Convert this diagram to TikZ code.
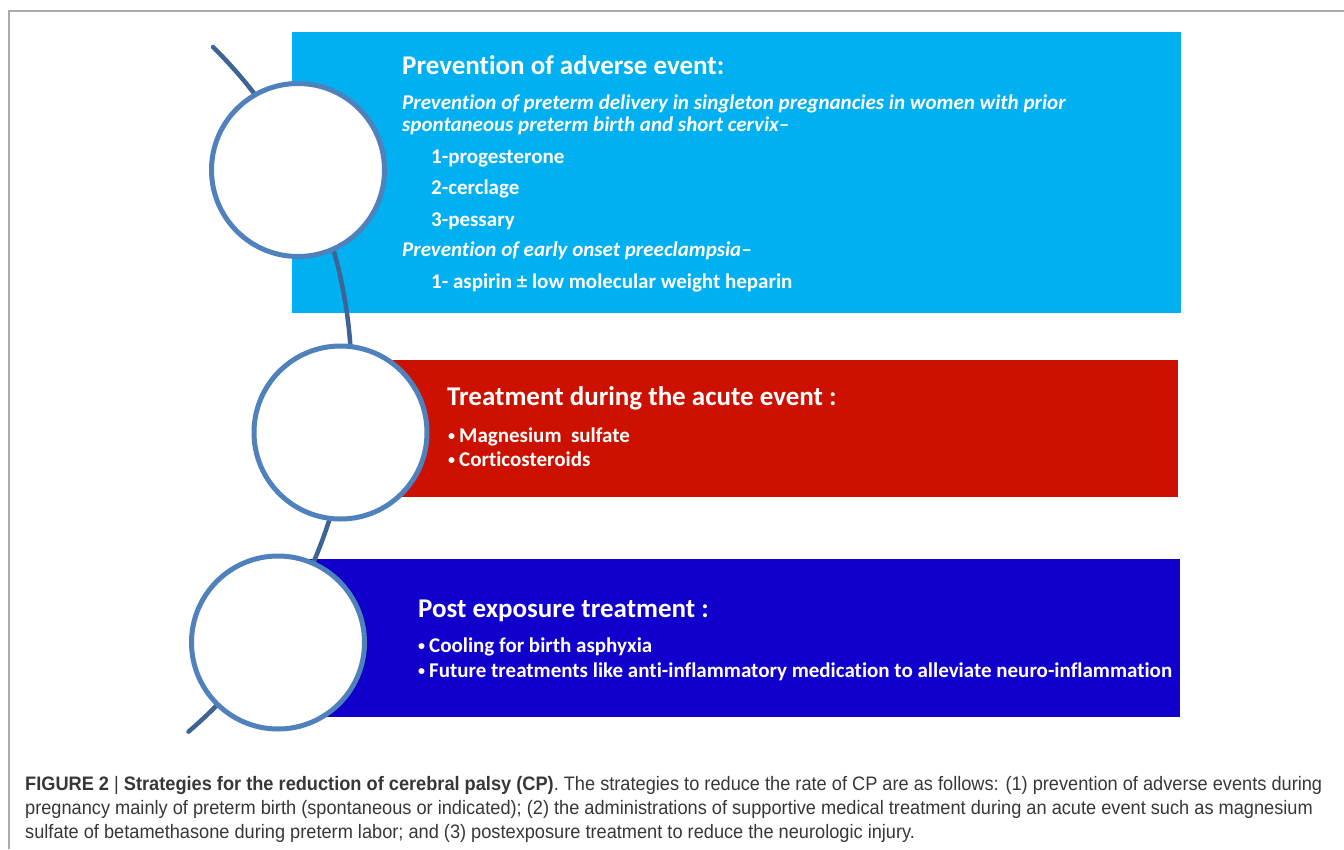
\documentclass[tikz,border=0pt]{standalone}
\usepackage{fontspec}
\usepackage{graphicx}
\setmainfont[Ligatures=NoCommon]{Carlito}
\newfontfamily\capfont{Liberation Sans}
\definecolor{cyanbox}{RGB}{0,176,240}
\definecolor{redbox}{RGB}{204,17,0}
\definecolor{bluebox}{RGB}{17,0,204}
\definecolor{ringc}{RGB}{79,129,189}
\definecolor{arcc}{RGB}{62,100,150}
\definecolor{framec}{RGB}{170,170,170}
\definecolor{capc}{RGB}{55,55,55}
\newcommand{\capsize}{\capfont\fontsize{19.5}{24}\selectfont}
\newcommand{\capone}{\textbf{FIGURE 2} | \textbf{Strategies for the reduction of cerebral palsy (CP)}. The strategies to reduce the rate of CP are as follows: (1) prevention of adverse events during}
\newcommand{\bul}{{\fontsize{14}{14}\selectfont\raisebox{1.8pt}{•}}\hspace{4pt}}
\newlength\caplen
\tikzset{
  panel/.style={anchor=north west, inner sep=0pt, outer sep=0pt},
  ring/.style={circle, draw=ringc, line width=5pt, fill=white, minimum size=173pt, inner sep=0pt},
  arcline/.style={draw=arcc, line width=4.5pt, line cap=round},
  head/.style={anchor=base west, inner sep=0pt, text=white, font=\fontsize{27}{32}\selectfont\bfseries},
  body/.style={anchor=base west, inner sep=0pt, text=white, font=\fontsize{21}{25}\selectfont\bfseries},
  bodyit/.style={anchor=base west, inner sep=0pt, text=white, font=\fontsize{21}{25}\selectfont\bfseries\itshape},
  captext/.style={anchor=base west, inner sep=0pt, text=capc, font=\capsize},
}
\begin{document}
\settowidth\caplen{\capsize\capone}
\pgfmathsetmacro\capsx{1297/\caplen}
\begin{tikzpicture}[x=1pt,y=-1pt]
\useasboundingbox (0,0) rectangle (1344,849);
% frame
\draw[framec, line width=1.5pt] (9,849) -- (9,11) -- (1344,11);
% panels
\node[panel, fill=cyanbox, minimum width=889pt, minimum height=281pt] (p1) at (292,32) {};
\node[panel, fill=redbox, minimum width=838pt, minimum height=137pt] (p2) at (340,360) {};
\node[panel, fill=bluebox, minimum width=902pt, minimum height=158pt] (p3) at (278,559) {};
% arc
\coordinate (arcS) at (213,47);
\draw[arcline] (arcS) arc[start angle=45.4, end angle=-49.5, radius=465pt] coordinate (arcE);
% rings
\node[ring] (c1) at (298,170) {};
\node[ring] (c2) at (340.5,432.5) {};
\node[ring] (c3) at (278,642.5) {};
% panel 1 text
\node[head] (t1) at (402,74) {Prevention of adverse event:};
\node[bodyit] (t1a) at (402,109) {Prevention of preterm delivery in singleton pregnancies in women with prior};
\node[bodyit] (t1b) at (402,131) {spontaneous preterm birth and short cervix–};
\node[body] (t1c) at (431,163) {1-progesterone};
\node[body] (t1d) at (431,194) {2-cerclage};
\node[body] (t1e) at (431,226) {3-pessary};
\node[bodyit] (t1f) at (402,256) {Prevention of early onset preeclampsia–};
\node[body] (t1g) at (431,288) {1- aspirin ± low molecular weight heparin};
% panel 2 text
\node[head] (t2) at (447,405) {Treatment during the acute event :};
\node[body] (t2a) at (448,442) {\bul Magnesium\ \ sulfate};
\node[body] (t2b) at (448,466) {\bul Corticosteroids};
% panel 3 text
\node[head] (t3) at (418,617) {Post exposure treatment :};
\node[body] (t3a) at (418,652) {\bul Cooling for birth asphyxia};
\node[body] (t3b) at (418,677) {\bul Future treatments like anti-inflammatory medication to alleviate neuro-inflammation};
% caption
\node[captext] (cap1) at (25,790) {\scalebox{\capsx}[1]{\capone}};
\node[captext] (cap2) at (25,814) {\scalebox{\capsx}[1]{pregnancy mainly of preterm birth (spontaneous or indicated); (2) the administrations of supportive medical treatment during an acute event such as magnesium}};
\node[captext] (cap3) at (25,838) {\scalebox{\capsx}[1]{sulfate of betamethasone during preterm labor; and (3) postexposure treatment to reduce the neurologic injury.}};
\end{tikzpicture}
\end{document}
